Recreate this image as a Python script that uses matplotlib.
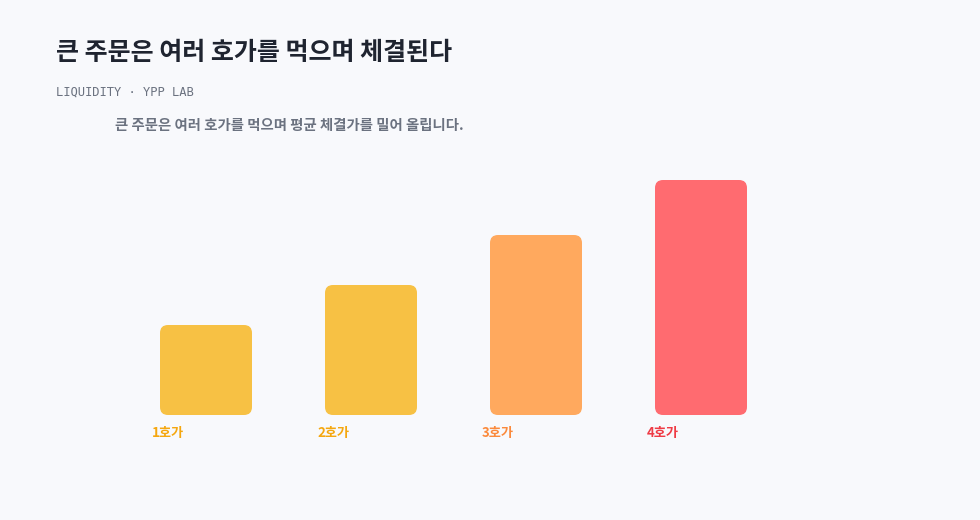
import matplotlib
matplotlib.use("Agg")
import matplotlib.pyplot as plt
from matplotlib.patches import FancyBboxPatch

plt.rcParams['font.family'] = ['Noto Sans CJK KR', 'DejaVu Sans']

categories = ['1호가', '2호가', '3호가', '4호가']
values = [90, 130, 180, 235]
bar_colors = ['#F7C144', '#F7C144', '#FFA95E', '#FF6B70']
label_colors = ['#F5A70F', '#F5A70F', '#FB8A3C', '#EF3B45']

title = '큰 주문은 여러 호가를 먹으며 체결된다'
subtitle = 'LIQUIDITY · YPP LAB'
note = '큰 주문은 여러 호가를 먹으며 평균 체결가를 밀어 올립니다.'

W, H = 980, 520
bg = '#F8F9FC'
fig = plt.figure(figsize=(W / 100, H / 100), dpi=100, facecolor=bg)

# axes in pixel layout
ax_left, ax_right = 123.5, 783.5
ax_bottom_px, ax_top_px = 415, 180
ax = fig.add_axes([ax_left / W, (H - ax_bottom_px) / H,
                   (ax_right - ax_left) / W, (ax_bottom_px - ax_top_px) / H])
ax.set_facecolor(bg)
ax.set_xlim(-0.5, len(categories) - 0.5)
ax.set_ylim(0, 235)
ax.axis('off')

px_per_x = (ax_right - ax_left) / len(categories)
px_per_y = (ax_bottom_px - ax_top_px) / 235
bw = 92 / px_per_x
radius_px = 8
for i, (v, c) in enumerate(zip(values, bar_colors)):
    p = FancyBboxPatch((i - bw / 2, 0), bw, v,
                       boxstyle=f"round,pad=0,rounding_size={radius_px / px_per_x}",
                       mutation_aspect=px_per_x / px_per_y,
                       facecolor=c, edgecolor='none', clip_on=False)
    ax.add_patch(p)
    ax.annotate(categories[i], xy=(i - bw / 2, 0), xytext=(-8, -11),
                textcoords='offset pixels', ha='left', va='top',
                fontsize=9.5, fontweight='bold', color=label_colors[i],
                annotation_clip=False)

fig.text(56 / W, 1 - 53 / H, title, fontsize=18, fontweight='bold',
         color='#1F2430', ha='left', va='center')
fig.text(56 / W, 1 - 92 / H, subtitle, fontsize=8.7, color='#6B7280',
         family=['DejaVu Sans Mono'], ha='left', va='center')
fig.text(115 / W, 1 - 126 / H, note, fontsize=10.35, fontweight='bold',
         color='#6B7280', ha='left', va='center')

fig.savefig('out.png', dpi=100, facecolor=bg)
